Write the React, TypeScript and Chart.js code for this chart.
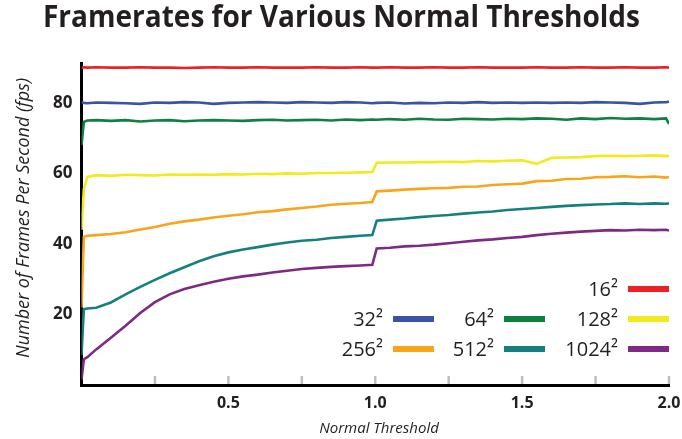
import React, { useEffect, useRef } from "react";
import { Chart, registerables } from "chart.js";

Chart.register(...registerables);

// ---- data ----
const chartTitle = "Framerates for Various Normal Thresholds";
const xAxisTitle = "Normal Threshold";
const yAxisTitle = "Number of Frames Per Second (fps)";

const thresholds = [
  0, 0.008, 0.02, 0.05, 0.1,
  0.15, 0.2, 0.25, 0.3, 0.35,
  0.4, 0.45, 0.5, 0.55, 0.6,
  0.65, 0.7, 0.75, 0.8, 0.85,
  0.9, 0.95, 0.99, 1.005, 1.05,
  1.1, 1.15, 1.2, 1.25, 1.3,
  1.35, 1.4, 1.45, 1.5, 1.55,
  1.6, 1.65, 1.7, 1.75, 1.8,
  1.85, 1.9, 1.95, 1.99, 2.0,
];

const fps16 = [
  90.0, 90.1, 90.0, 90.1, 90.0,
  90.0, 90.1, 90.0, 90.0, 89.9,
  90.0, 90.1, 90.0, 90.0, 90.1,
  90.0, 90.0, 90.0, 90.1, 90.0,
  90.0, 90.1, 90.0, 90.0, 90.1,
  90.0, 90.0, 90.1, 90.0, 90.0,
  90.1, 90.0, 90.0, 90.0, 90.1,
  90.0, 90.0, 90.1, 90.0, 90.0,
  90.1, 90.0, 90.0, 90.1, 90.0,
];

const fps32 = [
  80.2, 80.0, 79.9, 80.1, 80.0,
  79.9, 79.7, 80.1, 80.0, 80.2,
  80.1, 79.7, 80.0, 80.1, 80.2,
  80.1, 80.0, 80.2, 80.1, 80.0,
  80.2, 80.1, 79.9, 80.0, 80.1,
  79.8, 80.0, 79.9, 80.1, 80.0,
  80.2, 80.0, 80.1, 80.0, 80.1,
  80.0, 80.1, 80.0, 80.2, 80.1,
  80.0, 79.7, 80.1, 80.2, 80.3,
];

const fps64 = [
  68.0, 74.6, 75.0, 75.1, 74.9,
  75.1, 74.7, 75.0, 75.1, 74.8,
  75.0, 75.1, 75.0, 74.9, 75.1,
  75.2, 75.0, 75.1, 75.2, 75.0,
  75.3, 75.1, 75.3, 75.2, 75.4,
  75.2, 75.5, 75.3, 75.2, 75.5,
  75.4, 75.3, 75.5, 75.4, 75.6,
  75.5, 75.2, 75.6, 75.4, 75.7,
  75.5, 75.6, 75.4, 75.6, 74.0,
];

const fps128 = [
  44.0, 55.5, 59.0, 59.5, 59.3,
  59.6, 59.5, 59.4, 59.7, 59.6,
  59.7, 59.6, 59.8, 59.7, 59.9,
  59.8, 60.0, 59.9, 60.1, 60.1,
  60.2, 60.3, 60.4, 63.0, 63.1,
  63.1, 63.2, 63.2, 63.3, 63.2,
  63.5, 63.4, 63.6, 63.7, 62.7,
  64.4, 64.5, 64.6, 64.9, 65.0,
  64.9, 65.0, 65.1, 64.9, 65.0,
];

const fps256 = [
  22.0, 42.0, 42.3, 42.5, 42.8,
  43.3, 44.1, 44.8, 45.7, 46.4,
  46.9, 47.5, 48.0, 48.4, 49.0,
  49.3, 49.8, 50.2, 50.6, 51.1,
  51.4, 51.6, 51.9, 54.9, 55.1,
  55.4, 55.6, 55.8, 55.9, 56.2,
  56.3, 56.7, 56.9, 57.1, 57.8,
  57.9, 58.4, 58.5, 58.9, 59.0,
  59.2, 58.9, 59.1, 58.8, 59.0,
];

const fps512 = [
  8.5, 21.5, 21.7, 21.9, 23.4,
  25.7, 27.8, 29.8, 31.7, 33.4,
  35.1, 36.5, 37.6, 38.4, 39.1,
  39.8, 40.4, 40.9, 41.2, 41.7,
  42.0, 42.3, 42.5, 46.6, 46.9,
  47.2, 47.6, 47.9, 48.2, 48.6,
  48.9, 49.2, 49.6, 49.9, 50.2,
  50.5, 50.8, 51.0, 51.2, 51.3,
  51.5, 51.3, 51.5, 51.4, 51.5,
];

const fps1024 = [
  1.5, 7.3, 7.9, 10.1, 13.4,
  16.8, 20.4, 23.5, 25.7, 27.2,
  28.3, 29.3, 30.1, 30.8, 31.3,
  31.9, 32.4, 32.9, 33.2, 33.5,
  33.7, 33.9, 34.1, 38.7, 38.9,
  39.3, 39.5, 39.8, 40.2, 40.6,
  41.0, 41.3, 41.7, 42.0, 42.5,
  42.9, 43.2, 43.5, 43.7, 43.9,
  43.8, 44.0, 43.9, 44.0, 43.8,
];

const seriesLabels = ["16²", "32²", "64²", "128²", "256²", "512²", "1024²"];
const seriesValues = [fps16, fps32, fps64, fps128, fps256, fps512, fps1024];
const seriesColors = ["#ED2024", "#3A54A4", "#0E8141", "#F2EA1A", "#F9A51B", "#168080", "#7E2A85"];

const yTickValues = [20, 40, 60, 80];
const xTickValues = [0.25, 0.5, 0.75, 1.0, 1.25, 1.5, 1.75, 2.0];
const xLabelValues = [0.5, 1.0, 1.5, 2.0];

// legend grid slots (column, row) for each series
const legendSlots = [
  [2, 0],
  [0, 1], [1, 1], [2, 1],
  [0, 2], [1, 2], [2, 2],
];
const legendColX = [393, 504, 628];
const legendRowY = [289, 319, 349];

const TEXT = "#231F20";
const FONT = "'Open Sans', sans-serif";

const decorPlugin = {
  id: "decor",
  beforeDatasetsDraw(chart: any) {
    const { ctx, chartArea, scales } = chart;
    const x = scales.x;
    ctx.save();
    ctx.strokeStyle = "#BCBEC0";
    ctx.lineWidth = 2.5;
    for (const v of xTickValues) {
      const px = x.getPixelForValue(v);
      ctx.beginPath();
      ctx.moveTo(px, chartArea.bottom - 9);
      ctx.lineTo(px, chartArea.bottom - 1);
      ctx.stroke();
    }
    ctx.restore();
  },
  afterDraw(chart: any) {
    const { ctx } = chart;
    ctx.save();
    ctx.fillStyle = TEXT;
    // main title
    ctx.font = `bold 31px ${FONT}`;
    ctx.textAlign = "center";
    ctx.textBaseline = "alphabetic";
    ctx.fillText(chartTitle, 341.5, 27, 597);
    // y axis title
    ctx.save();
    ctx.translate(29, 218);
    ctx.rotate(-Math.PI / 2);
    ctx.font = `italic 18px ${FONT}`;
    ctx.fillText(yAxisTitle, 0, 0, 280);
    ctx.restore();
    // x axis title
    ctx.font = `italic 15px ${FONT}`;
    ctx.fillText(xAxisTitle, 379, 433);
    // legend
    ctx.font = `20px ${FONT}`;
    ctx.textAlign = "right";
    chart.data.datasets.forEach((ds: any, i: number) => {
      const [c, r] = legendSlots[i];
      const sx = legendColX[c];
      const sy = legendRowY[r];
      ctx.fillStyle = ds.borderColor;
      ctx.fillRect(sx, sy - 3, 41, 6);
      ctx.fillStyle = TEXT;
      ctx.fillText(ds.label, sx - 10, sy + 7);
    });
    ctx.restore();
  },
};

export default function App() {
  const canvasRef = useRef<HTMLCanvasElement | null>(null);

  useEffect(() => {
    document.body.style.margin = "0";
    const canvas = canvasRef.current;
    if (!canvas) return;
    const datasets = seriesLabels.map((label, i) => ({
      label,
      data: seriesValues[i].map((v, j) => ({ x: thresholds[j], y: v })),
      borderColor: seriesColors[i],
      backgroundColor: seriesColors[i],
      borderWidth: 2.6,
      pointRadius: 0,
      tension: 0,
      fill: false,
    }));
    const chart = new Chart(canvas, {
      type: "line",
      data: { datasets },
      options: {
        animation: false,
        responsive: false,
        layout: { padding: { top: 63, right: 13, left: 0, bottom: 0 } },
        plugins: {
          legend: { display: false },
          title: { display: false },
          tooltip: { enabled: false },
        },
        scales: {
          x: {
            type: "linear",
            min: 0,
            max: 2,
            grid: { display: false, drawTicks: false },
            border: { display: true, color: "#000000", width: 3 },
            afterBuildTicks: (s: any) => {
              s.ticks = xTickValues.map((v) => ({ value: v }));
            },
            afterFit: (s: any) => {
              s.height = 54;
              s.paddingLeft = 0;
              s.paddingRight = 0;
            },
            ticks: {
              padding: 9,
              color: TEXT,
              autoSkip: false,
              maxRotation: 0,
              font: { family: FONT, size: 16, weight: "bold" },
              callback: (v: any) => (xLabelValues.includes(Number(v)) ? Number(v).toFixed(1) : ""),
            },
          },
          y: {
            type: "linear",
            min: 0,
            max: 91.3,
            grid: { display: false, drawTicks: false },
            border: { display: true, color: "#000000", width: 3 },
            afterBuildTicks: (s: any) => {
              s.ticks = yTickValues.map((v) => ({ value: v }));
            },
            afterFit: (s: any) => {
              s.width = 81.5;
              s.paddingTop = 0;
              s.paddingBottom = 0;
            },
            ticks: {
              padding: 9,
              color: TEXT,
              font: { family: FONT, size: 17, weight: "bold" },
              callback: (v: any) => String(v),
            },
          },
        },
      } as any,
      plugins: [decorPlugin],
    });
    return () => chart.destroy();
  }, []);

  return (
    <div style={{ width: 682, height: 439 }}>
      <canvas ref={canvasRef} width={682} height={439} />
    </div>
  );
}
